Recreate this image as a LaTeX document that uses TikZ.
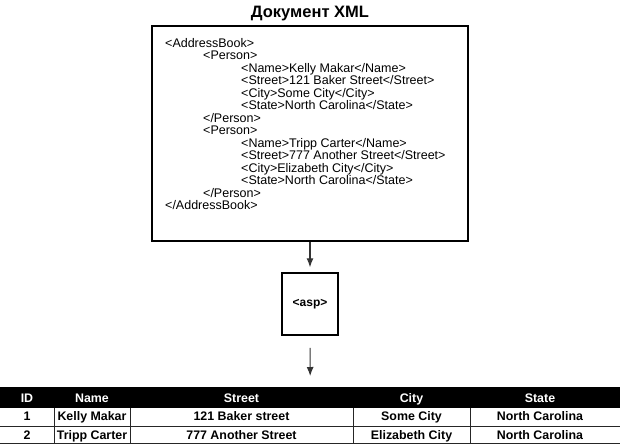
\documentclass[tikz,border=0pt]{standalone}
\usepackage{fontspec}
\setmainfont{Liberation Sans}
\usetikzlibrary{arrows.meta}
\tikzset{
  xmlline/.style={anchor=base west,inner sep=0pt,font=\fontsize{12.5}{12.5}\selectfont},
  cellhead/.style={anchor=base,inner sep=0pt,text=white,font=\bfseries\fontsize{12.4}{12.4}\selectfont},
  cell/.style={anchor=base,inner sep=0pt,font=\bfseries\fontsize{12.4}{12.4}\selectfont},
  flow/.style={draw=black!80,line width=1.1pt,-{Latex[length=9pt,width=7pt]}},
  tablerule/.style={line width=0.8pt,draw=black!85}
}

\begin{document}
\begin{tikzpicture}[x=1pt,y=-1pt]
  \useasboundingbox (0,0) rectangle (620,444);
  % title and xml document
  \node[anchor=base,inner sep=0pt,font=\bfseries\fontsize{16.5}{16.5}\selectfont] (title) at (310,18) {Документ XML};
  \node[draw,line width=2pt,minimum width=316pt,minimum height=215pt,inner sep=0pt] (doc) at (310,133.5) {};
  \foreach \lvl/\txt [count=\i] in {0/{<AddressBook>},1/{<Person>},
      2/{<Name>Kelly Makar</Name>},2/{<Street>121 Baker Street</Street>},
      2/{<City>Some City</City>},2/{<State>North Carolina</State>},
      1/{</Person>},1/{<Person>},
      2/{<Name>Tripp Carter</Name>},2/{<Street>777 Another Street</Street>},
      2/{<City>Elizabeth City</City>},2/{<State>North Carolina</State>},
      1/{</Person>},0/{</AddressBook>}} {
    \node[xmlline] (line\i) at ({165+38*\lvl},{47.5+12.46*(\i-1)}) {\txt};
  }
  % processor
  \node[draw,line width=1.5pt,minimum width=56pt,minimum height=62pt,inner sep=0pt,
        font=\bfseries\fontsize{12}{12}\selectfont] (asp) at (310,304) {<asp>};
  % table
  \node[fill=black,minimum width=620pt,minimum height=21pt,inner sep=0pt,anchor=north west] (head) at (0,387) {};
  \draw[tablerule] (0,426) -- (620,426) (0,443.5) -- (620,443.5);
  \foreach \x in {54,130,353,470}
    \draw[tablerule] (\x,408) -- (\x,444);
  \foreach \cx/\hd/\ra/\rb [count=\c] in {27/ID/1/2,92/Name/Kelly Makar/Tripp Carter,
      241.5/Street/121 Baker street/777 Another Street,411.5/City/Some City/Elizabeth City,
      540/State/North Carolina/North Carolina} {
    \node[cellhead] (h\c) at (\cx,402) {\hd};
    \node[cell] (a\c) at (\cx,420) {\ra};
    \node[cell] (b\c) at (\cx,439) {\rb};
  }
  \draw[flow,shorten >=5pt] (doc.south) -- (asp.north);
  \draw[flow,shorten <=12pt,shorten >=11pt] (asp.south) -- (head.north);
\end{tikzpicture}
\end{document}
